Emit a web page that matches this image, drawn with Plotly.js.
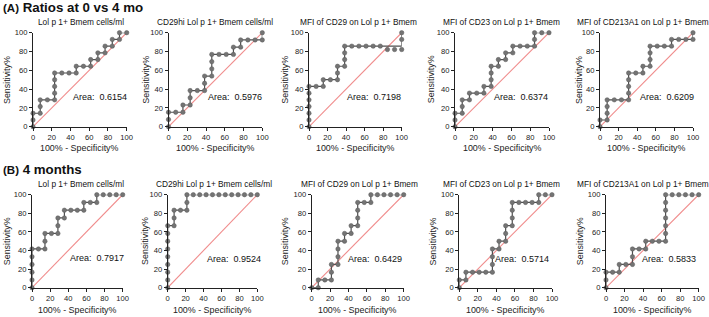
<!DOCTYPE html>
<html>
<head>
<meta charset="utf-8">
<script src="https://cdn.plot.ly/plotly-3.0.1.min.js"></script>
<style>html,body{margin:0;padding:0;background:#fff;}#chart{width:709px;height:317px;}</style>
</head>
<body>
<div id="chart"></div>
<script>
// ---------- DATA (100% - Specificity%, Sensitivity%) ----------
const sectionLabels = ["(A)", "(B)"];
const sectionTitles = ["Ratios at 0 vs 4 mo", "4 months"];
const panelTitles = [
  "Lol p 1+ Bmem cells/ml", "CD29hi Lol p 1+ Bmem cells/ml", "MFI of CD29 on Lol p 1+ Bmem",
  "MFI of CD23 on Lol p 1+ Bmem", "MFI of CD213A1 on Lol p 1+ Bmem",
  "Lol p 1+ Bmem cells/ml", "CD29hi Lol p 1+ Bmem cells/ml", "MFI of CD29 on Lol p 1+ Bmem",
  "MFI of CD23 on Lol p 1+ Bmem", "MFI of CD213A1 on Lol p 1+ Bmem"
];
const areaValues = ["0.6154", "0.5976", "0.7198", "0.6374", "0.6209",
                    "0.7917", "0.9524", "0.6429", "0.5714", "0.5833"];
const tickVals = [0, 20, 40, 60, 80, 100];

const a1_x = [0,0,0,7.69,7.69,7.69,15.38,23.08,23.08,23.08,23.08,23.08,30.77,38.46,46.15,46.15,53.85,61.54,61.54,69.23,69.23,76.92,76.92,84.62,84.62,92.31,92.31,100];
const a1_y = [0,7.14,14.29,14.29,21.43,28.57,28.57,28.57,35.71,42.86,50,57.14,57.14,57.14,57.14,64.29,64.29,64.29,71.43,71.43,78.57,78.57,85.71,85.71,92.86,92.86,100,100];

const a2_x = [0,0,0,7.69,15.38,15.38,23.08,23.08,23.08,30.77,38.46,38.46,38.46,46.15,46.15,46.15,46.15,53.85,61.54,69.23,69.23,76.92,76.92,84.62,92.31,100,100];
const a2_y = [0,7.69,15.38,15.38,15.38,23.08,23.08,30.77,38.46,38.46,38.46,46.15,53.85,53.85,61.54,69.23,76.92,76.92,76.92,76.92,84.62,84.62,92.31,92.31,92.31,92.31,100];

const a3_x = [0,0,0,0,0,0,0,7.69,15.38,15.38,23.08,30.77,30.77,30.77,38.46,38.46,38.46,38.46,46.15,53.85,61.54,69.23,76.92,84.62,92.31,100,100,100];
const a3_y = [0,7.14,14.29,21.43,28.57,35.71,42.86,42.86,42.86,50,50,50,57.14,64.29,64.29,71.43,78.57,85.71,85.71,85.71,85.71,85.71,85.71,85.71,85.71,85.71,92.86,100];
// marker positions as drawn in the picture (last dots sit slightly below the line)
const a3_marker_y = [0,7.14,14.29,21.43,28.57,35.71,42.86,42.86,42.86,50,50,50,57.14,64.29,64.29,71.43,78.57,85.71,85.71,85.71,85.71,85.71,85.71,82.1,82.1,82.1,92.86,100];

const a4_x = [0,0,0,7.69,7.69,7.69,15.38,15.38,23.08,30.77,30.77,38.46,38.46,38.46,38.46,46.15,46.15,53.85,53.85,61.54,61.54,69.23,76.92,84.62,84.62,84.62,92.31,100];
const a4_y = [0,7.14,14.29,14.29,21.43,28.57,28.57,35.71,35.71,35.71,42.86,42.86,50,57.14,64.29,64.29,71.43,71.43,78.57,78.57,85.71,85.71,85.71,85.71,92.86,100,100,100];

const a5_x = [0,0,7.69,7.69,7.69,7.69,15.38,23.08,30.77,30.77,30.77,30.77,30.77,38.46,46.15,46.15,53.85,53.85,53.85,53.85,61.54,69.23,76.92,76.92,84.62,92.31,100,100];
const a5_y = [0,7.14,7.14,14.29,21.43,28.57,28.57,28.57,28.57,35.71,42.86,50,57.14,57.14,57.14,64.29,64.29,71.43,78.57,85.71,85.71,85.71,85.71,92.86,92.86,92.86,92.86,100];

const b1_x = [0,0,0,0,0,0,7.14,14.29,14.29,14.29,21.43,28.57,28.57,28.57,35.71,35.71,42.86,50,57.14,57.14,64.29,71.43,71.43,78.57,85.71,92.86,100];
const b1_y = [0,8.33,16.67,25,33.33,41.67,41.67,41.67,50,58.33,58.33,58.33,66.67,75,75,83.33,83.33,83.33,83.33,91.67,91.67,91.67,100,100,100,100,100];

const b2_x = [0,0,0,0,0,0,0,0,0,7.14,7.14,7.14,14.29,21.43,21.43,21.43,28.57,35.71,42.86,50,57.14,64.29,71.43,78.57,85.71,92.86,100];
const b2_y = [0,8.33,16.67,25,33.33,41.67,50,58.33,66.67,66.67,75,83.33,83.33,83.33,91.67,100,100,100,100,100,100,100,100,100,100,100,100];

const b3_x = [0,7.14,7.14,14.29,21.43,21.43,21.43,28.57,28.57,28.57,28.57,35.71,35.71,42.86,42.86,50,50,50,50,57.14,64.29,64.29,71.43,78.57,85.71,92.86,100];
const b3_y = [0,0,8.33,8.33,8.33,16.67,25,25,33.33,41.67,50,50,58.33,58.33,66.67,66.67,75,83.33,91.67,91.67,91.67,100,100,100,100,100,100];

const b4_x = [0,0,7.14,7.14,14.29,21.43,28.57,35.71,35.71,35.71,35.71,42.86,42.86,50,50,50,57.14,57.14,57.14,57.14,64.29,71.43,78.57,85.71,85.71,92.86,100];
const b4_y = [0,8.33,8.33,16.67,16.67,16.67,16.67,16.67,25,33.33,41.67,41.67,50,50,58.33,66.67,66.67,75,83.33,91.67,91.67,91.67,91.67,91.67,100,100,100];

const b5_x = [0,0,0,7.14,14.29,14.29,21.43,28.57,28.57,28.57,35.71,42.86,42.86,50,57.14,64.29,64.29,64.29,64.29,64.29,64.29,64.29,71.43,78.57,85.71,92.86,100];
const b5_y = [0,8.33,16.67,16.67,16.67,25,25,25,33.33,41.67,41.67,41.67,50,50,50,50,58.33,66.67,75,83.33,91.67,100,100,100,100,100,100];

const refLine = [0, 100];

// ---------- LAYOUT (pixel geometry) ----------
const W = 709, H = 317;
const FONT = "Liberation Sans, Arial, Helvetica, sans-serif";
const xPix = [[33,126.7],[168.5,262.3],[309,401.7],[455,549],[600,693],
              [32,122.7],[167.7,257.3],[311.7,403.7],[459.3,552],[606,698.7]];
const yPix = [[32.7,126.7],[194.7,287.7]];
const sensX = [6.3,146,285,430.5,578.3, 7,144.7,285,433.3,580];
const titleX = [81.2,215,358.3,501.3,642.5, 81.3,214.2,359,501,642.8];
const areaRight = [129,264.3,402.7,550,696, 126,262.7,404,551,697.7];
const areaY = [97.3,97.3,97.3,97.3,97.3, 257.5,259,258.5,258.5,258.5];
const titleY = [21.7, 184.3];
const xTitleY = [148.3, 310];
const headerY = [7.5, 169];

const panels = [
  [a1_x,a1_y,a1_y],[a2_x,a2_y,a2_y],[a3_x,a3_y,a3_marker_y],[a4_x,a4_y,a4_y],[a5_x,a5_y,a5_y],
  [b1_x,b1_y,b1_y],[b2_x,b2_y,b2_y],[b3_x,b3_y,b3_y],[b4_x,b4_y,b4_y],[b5_x,b5_y,b5_y]
];

const traces = [];
const layout = {
  width: W, height: H,
  margin: {l:0, r:0, t:0, b:0},
  paper_bgcolor: "#fff", plot_bgcolor: "rgba(0,0,0,0)",
  showlegend: false,
  font: {family: FONT, color: "#222"},
  annotations: []
};

panels.forEach((p, i) => {
  const n = i + 1;
  const xa = n === 1 ? "x" : "x" + n;
  const ya = n === 1 ? "y" : "y" + n;
  const row = i < 5 ? 0 : 1;
  traces.push({x: refLine, y: refLine, xaxis: xa, yaxis: ya, mode: "lines",
    line: {color: "#f08c8c", width: 1.1}, hoverinfo: "skip"});
  traces.push({x: p[0], y: p[1], xaxis: xa, yaxis: ya, mode: "lines",
    line: {color: "#505050", width: 1.2}, cliponaxis: false, hoverinfo: "skip"});
  traces.push({x: p[0], y: p[2], xaxis: xa, yaxis: ya, mode: "markers",
    marker: {color: "#747474", size: 4.4, line: {color: "#5a5a5a", width: 0.5}},
    cliponaxis: false, hoverinfo: "skip"});

  const axBase = {
    range: [0, 100], tickvals: tickVals, ticktext: tickVals.map(String),
    showgrid: false, zeroline: false, showline: true, linecolor: "#222", linewidth: 1,
    ticks: "outside", ticklen: 3, tickwidth: 1, tickcolor: "#222",
    tickfont: {size: 7.6, family: FONT, color: "#222"}, fixedrange: true
  };
  const xk = n === 1 ? "xaxis" : "xaxis" + n;
  const yk = n === 1 ? "yaxis" : "yaxis" + n;
  layout[xk] = Object.assign({}, axBase, {
    domain: [xPix[i][0] / W, xPix[i][1] / W], anchor: ya
  });
  layout[yk] = Object.assign({}, axBase, {
    domain: [1 - yPix[row][1] / H, 1 - yPix[row][0] / H], anchor: xa
  });

  layout.annotations.push({xref: "paper", yref: "paper", x: titleX[i] / W, y: 1 - titleY[row] / H,
    text: panelTitles[i], showarrow: false, xanchor: "center", yanchor: "middle",
    font: {size: 8.3, family: FONT, color: "#111"}});
  layout.annotations.push({xref: "paper", yref: "paper",
    x: (xPix[i][0] + xPix[i][1]) / 2 / W, y: 1 - xTitleY[row] / H,
    text: "100% - Specificity%", showarrow: false, xanchor: "center", yanchor: "middle",
    font: {size: 8.9, family: FONT, color: "#222"}});
  layout.annotations.push({xref: "paper", yref: "paper",
    x: sensX[i] / W, y: 1 - (yPix[row][0] + yPix[row][1]) / 2 / H,
    text: "Sensitivity%", showarrow: false, textangle: -90, xanchor: "center", yanchor: "middle",
    font: {size: 8.9, family: FONT, color: "#222"}});
  layout.annotations.push({xref: "paper", yref: "paper",
    x: areaRight[i] / W, y: 1 - areaY[i] / H,
    text: "Area:&nbsp;&nbsp;" + areaValues[i], showarrow: false, xanchor: "right", yanchor: "middle",
    font: {size: 9, family: FONT, color: "#111"}});
});

[0, 1].forEach(r => {
  layout.annotations.push({xref: "paper", yref: "paper", x: 0.5 / W, y: 1 - headerY[r] / H,
    text: "<b><span style='font-size:11.5px'>" + sectionLabels[r] + "</span> " + sectionTitles[r] + "</b>",
    showarrow: false, xanchor: "left", yanchor: "middle",
    font: {size: 13.3, family: FONT, color: "#111"}});
});

Plotly.newPlot("chart", traces, layout, {staticPlot: true, displayModeBar: false});
</script>
</body>
</html>
